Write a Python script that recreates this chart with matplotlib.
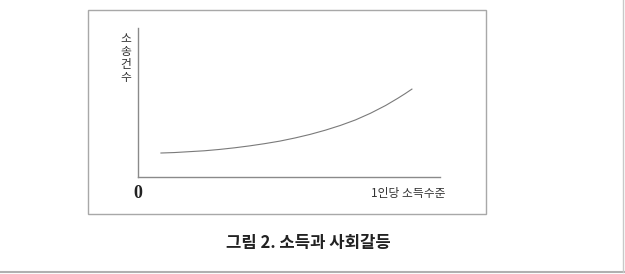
import matplotlib.pyplot as plt
from matplotlib.patches import Rectangle
from matplotlib.lines import Line2D

# curve (axis units 0-100)
income = [7.6, 12, 17, 22, 27, 32, 37, 42, 47, 52, 57, 62, 67, 72, 77, 82, 86, 88.5, 90.7]
lawsuits = [16.1, 16.4, 17.0, 17.6, 18.5, 19.6, 20.9, 22.4, 24.1, 26.2, 28.6, 31.4,
            34.6, 38.3, 42.8, 48.0, 52.8, 56.0, 59.0]

y_label = "소\n송\n건\n수"
x_label = "1인당 소득수준"
origin_label = "0"
caption = "그림 2. 소득과 사회갈등"

W, H = 625, 274
fig = plt.figure(figsize=(W / 100, H / 100), dpi=100)

def fx(px):
    return px / W

def fy(py):
    return 1 - py / H

# outer frame around the plot
fig.patches.append(Rectangle((fx(88), fy(214)), fx(486) - fx(88), fy(10) - fy(214),
                             transform=fig.transFigure, fill=False,
                             edgecolor="#a8a8a8", linewidth=1.0))
# page edges
fig.lines.append(Line2D([0, 1], [fy(272), fy(272)], transform=fig.transFigure,
                        color="#b0b0b0", linewidth=1.5))
fig.lines.append(Line2D([fx(623), fx(623)], [fy(272), 1], transform=fig.transFigure,
                        color="#c8c8c8", linewidth=1.0))

ax = fig.add_axes([fx(138), fy(177), fx(440) - fx(138), fy(28) - fy(177)])
ax.plot(income, lawsuits, color="#7a7a7a", linewidth=0.8)
ax.set_xlim(0, 100)
ax.set_ylim(0, 100)
ax.set_xticks([])
ax.set_yticks([])
for s in ["top", "right"]:
    ax.spines[s].set_visible(False)
for s in ["left", "bottom"]:
    ax.spines[s].set_color("#8a8a8a")
    ax.spines[s].set_linewidth(1.0)
ax.patch.set_alpha(0)

kr = ["Noto Sans CJK KR", "DejaVu Sans"]
fig.text(fx(126), fy(32), y_label, family=kr, fontsize=8.5, ha="center", va="top",
         linespacing=1.0, color="#333333")
fig.text(fx(138), fy(193), origin_label, family="Liberation Serif", fontsize=13,
         fontweight="bold", ha="center", va="center", color="#222222")
fig.text(fx(408), fy(193), x_label, family=kr, fontsize=8.5, ha="center", va="center",
         color="#333333")
fig.text(fx(308), fy(243), caption, family=kr, fontsize=12, fontweight="bold",
         ha="center", va="center", color="#222222")

fig.savefig("out.png", dpi=100)
